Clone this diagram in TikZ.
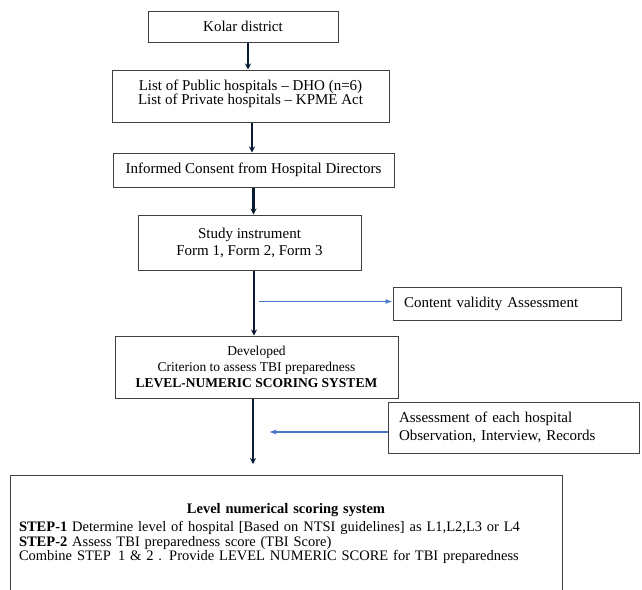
\documentclass[tikz,border=0pt]{standalone}
\usepackage{fontspec}
\setmainfont{Liberation Serif}
\usetikzlibrary{arrows.meta}
\definecolor{navy}{HTML}{0B1A33}
\definecolor{sideblue}{HTML}{4A78C8}
\begin{document}
\begin{tikzpicture}[x=1pt, y=-1pt,
    box/.style={rectangle, draw=black!75, line width=1pt, align=center, inner sep=0pt, font=\fontsize{15}{14}\selectfont},
    note/.style={box, align=left, inner xsep=11pt},
    flow/.style={-{Stealth[length=6pt, width=6pt]}, line width=2.6pt, draw=navy},
    side/.style={-{Latex[length=7pt, width=5pt]}, line width=1.2pt, draw=sideblue}
]
\useasboundingbox (0,0) rectangle (642,589);

% main column
\node[box, minimum width=190pt, minimum height=31pt] (kolar) at (243,26.5) {Kolar district};
\node[box, minimum width=277pt, minimum height=52pt, text depth=8pt] (lists) at (250.5,96) {List of Public hospitals -- DHO (n=6)\\List of Private hospitals -- KPME Act};
\node[box, minimum width=281pt, minimum height=34pt] (consent) at (253.5,170) {Informed Consent from Hospital Directors};
\node[box, minimum width=223pt, minimum height=55pt, font=\fontsize{15}{17}\selectfont] (instr) at (249.5,242.5) {Study instrument\\Form 1, Form 2, Form 3};
\node[box, minimum width=283pt, minimum height=62pt, font=\fontsize{13.5}{16}\selectfont] (crit) at (256.5,367) {Developed\\Criterion to assess TBI preparedness\\\textbf{LEVEL-NUMERIC SCORING SYSTEM}};
\node[box, minimum width=552pt, minimum height=117pt, text width=534pt, align=left, font=\fontsize{14.5}{12.8}\selectfont] (lvl) at (286,533.5) {\makebox[\linewidth]{\textbf{Level numerical scoring system}}\\[4pt]
    \textbf{STEP-1} Determine level of hospital [Based on NTSI guidelines] as L1,L2,L3 or L4\\
    \textbf{STEP-2} Assess TBI preparedness score (TBI Score)\\
    Combine STEP\, 1 \& 2 . Provide LEVEL NUMERIC SCORE for TBI preparedness};

% side boxes
\node[note, text width=206pt, minimum height=33pt] (valid) at (507,303.5) {Content validity Assessment};
\node[note, text width=229pt, minimum height=51pt, font=\fontsize{15}{18}\selectfont] (assess) at (513.5,427.5) {Assessment of each hospital\\Observation, Interview, Records};

\coordinate (tap) at (259,301.5);
\coordinate (feed) at (269,432);
\coordinate (stop) at (253,464);

\draw[flow] ([xshift=5pt]kolar.south) -- ([xshift=5pt]kolar.south |- lists.north);
\draw[flow] ([xshift=1.5pt]lists.south) -- ([xshift=1.5pt]lists.south |- consent.north);
\draw[flow] (consent.south) -- (consent.south |- instr.north);
\draw[flow] ([xshift=4.5pt]instr.south) -- ([xshift=4.5pt]instr.south |- crit.north);
\draw[flow] ([xshift=-3.5pt]crit.south) -- (stop);

\draw[side] (tap) -- (tap -| valid.west);
\draw[side] (feed -| assess.west) -- (feed);
\end{tikzpicture}
\end{document}
